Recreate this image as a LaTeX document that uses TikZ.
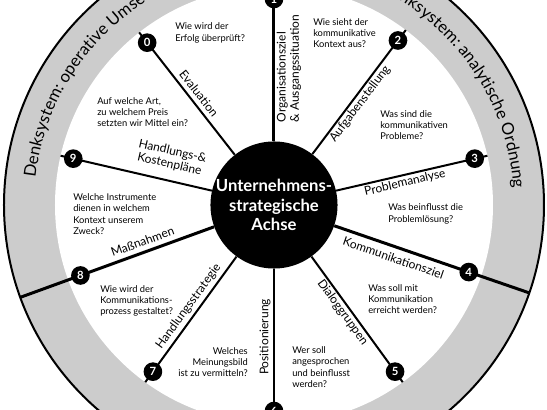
\documentclass[tikz,border=0pt]{standalone}
\usepackage{fontspec}
\setmainfont{Lato}
\usetikzlibrary{decorations.text}
\newcommand\ringfont{\fontsize{12.5}{12.5}\selectfont}

\begin{document}
\begin{tikzpicture}[x=0.75pt, y=0.75pt,
  hub/.style={circle, fill=black, text=white, font=\bfseries\fontsize{12.5}{14.8}\selectfont, align=center, minimum size=94pt, inner sep=0pt},
  num/.style={circle, fill=black, text=white, font=\bfseries\fontsize{8.5}{8.5}\selectfont, minimum size=14pt, inner sep=0pt},
  lbl/.style={font=\fontsize{9}{10}\selectfont, align=center, inner sep=0pt},
  ask/.style={font=\fontsize{7}{8.5}\selectfont, align=left, inner sep=0pt, anchor=west}]
  \clip (-274,-205) rectangle (273,205);
  % outer ring
  \fill[black!20] (0,0) circle (270);
  \fill[white] (0,0) circle (219);
  \draw[line width=1.5pt] (0,0) circle (270);
  \path[decorate, decoration={text along path, text align=left,
    text={|\ringfont|Denksystem: operative Umsetzung}}]
    (173.5:240) arc[start angle=173.5, end angle=80, radius=240];
  \path[decorate, decoration={text along path, text align=right,
    text={|\ringfont|Denksystem: analytische Ordnung}}]
    (80:240) arc[start angle=80, end angle=4, radius=240];
  % hub and spokes
  \node[hub] (ctr) at (0,0) {Unternehmens-\\strategische\\Achse};
  \foreach \i/\a/\r/\w in {0/128/219/1.5, 1/90/219/2.25, 2/53/219/1.5, 3/13/219/1.5, 4/-19/270/2.25,
    5/-54/219/1.5, 6/-90/219/1.5, 7/-126/219/1.5, 8/-160/270/2.25, 9/167/219/1.5} {
    \coordinate (e\i) at (\a:\r);
    \draw[line width=\w pt] (ctr) -- (e\i);
    \node[num] (n\i) at (\a:206) {\i};
  }
  % spoke labels
  \node[lbl, rotate=-52] (l0) at (-75,111.5) {Evaluation};
  \node[lbl, rotate=90, align=left] (l1) at (15,136.5) {Organisationsziel\\\& Ausgangssituation};
  \node[lbl, rotate=53] (l2) at (86,101) {Aufgabenstellung};
  \node[lbl, rotate=13] (l3) at (131,22) {Problemanalyse};
  \node[lbl, rotate=-19] (l4) at (119.5,-53) {Kommunikationsziel};
  \node[lbl, rotate=-54] (l5) at (68.5,-107.5) {Dialoggruppen};
  \node[lbl, rotate=90] (l6) at (-9,-132) {Positionierung};
  \node[lbl, rotate=54] (l7) at (-85.5,-101.5) {Handlungsstrategie};
  \node[lbl, rotate=20] (l8) at (-131.5,-36.5) {Maßnahmen};
  \node[lbl, rotate=-13] (l9) at (-103,47) {Handlungs-\&\\Kostenpläne};
  % questions
  \node[ask] (q0) at (-99,172) {Wie wird der\\Erfolg überprüft?};
  \node[ask] (q1) at (39,172) {Wie sieht der\\kommunikative\\Kontext aus?};
  \node[ask] (q2) at (106,80) {Was sind die\\kommunikativen\\Probleme?};
  \node[ask] (q3) at (114,-9) {Was beinflusst die\\Problemlösung?};
  \node[ask] (q4) at (94,-94) {Was soll mit\\Kommunikation\\erreicht werden?};
  \node[ask] (q5) at (18,-162) {Wer soll\\angesprochen\\und beinflusst\\werden?};
  \node[ask, anchor=east, align=right] (q6) at (-26,-157) {Welches\\Meinungsbild\\ist zu vermitteln?};
  \node[ask] (q7) at (-174,-96) {Wie wird der\\Kommunikations-\\prozess gestaltet?};
  \node[ask] (q8) at (-201,-9) {Welche Instrumente\\dienen in welchem\\Kontext unserem\\Zweck?};
  \node[ask] (q9) at (-177,93) {Auf welche Art,\\zu welchem Preis\\setzten wir Mittel ein?};
\end{tikzpicture}
\end{document}
